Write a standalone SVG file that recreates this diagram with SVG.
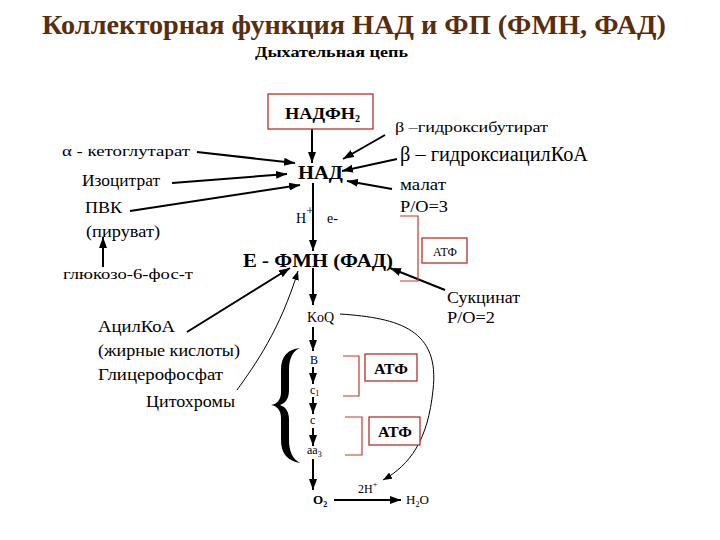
<svg xmlns="http://www.w3.org/2000/svg" width="720" height="540" viewBox="0 0 720 540" font-family="'Liberation Serif', 'Times New Roman', serif">
<defs>
<marker id="ah" markerUnits="userSpaceOnUse" markerWidth="11" markerHeight="8" refX="11" refY="4" orient="auto">
<path d="M0,0 L11,4 L0,8 z" fill="#000"/>
</marker>
<marker id="ahs" markerUnits="userSpaceOnUse" markerWidth="9" markerHeight="7" refX="9" refY="3.5" orient="auto">
<path d="M0,0 L9,3.5 L0,7 z" fill="#000"/>
</marker>
<style>
.b{font-weight:bold}
.a{stroke:#000;stroke-width:2;fill:none;marker-end:url(#ah)}
.t{stroke:#000;stroke-width:1;fill:none;marker-end:url(#ahs)}
.rb{fill:#fff;stroke:#b5302a;stroke-width:1.3}
.br{fill:none;stroke:#c0392b;stroke-width:1.2}
</style>
</defs>
<rect width="720" height="540" fill="#fff"/>
<g id="title">
<text x="42" y="34" class="b" font-size="27" fill="#5a2d0c" textLength="624" lengthAdjust="spacingAndGlyphs">Коллекторная функция НАД и ФП (ФМН, ФАД)</text>
<text x="255" y="57" class="b" font-size="15" textLength="153" lengthAdjust="spacingAndGlyphs">Дыхательная  цепь</text>
</g>
<g id="connectors">
<line class="a" x1="312" y1="129" x2="312" y2="163"/>
<line class="a" x1="197" y1="152" x2="295" y2="163"/>
<line class="a" x1="172" y1="183" x2="287" y2="174"/>
<line class="a" x1="130" y1="211" x2="300" y2="185"/>
<line class="a" x1="103" y1="267" x2="103" y2="237"/>
<line class="a" x1="385" y1="135" x2="343" y2="159"/>
<line class="a" x1="397" y1="159" x2="342" y2="171"/>
<line class="a" x1="392" y1="189" x2="347" y2="181"/>
<line class="a" x1="313" y1="183" x2="313" y2="251"/>
<line class="a" x1="445" y1="290" x2="390" y2="268"/>
<line class="a" x1="187" y1="332" x2="290" y2="268"/>
<path class="t" d="M237,390 C255,365 280,330 298,271"/>
<line class="a" x1="313" y1="268" x2="313" y2="305"/>
<path class="t" d="M340,314 C400,318 440,330 433,390 C428,440 410,465 383,480"/>
<line class="a" x1="313" y1="327" x2="313" y2="351"/>
<line class="a" x1="313" y1="367" x2="313" y2="384"/>
<line class="a" x1="313" y1="397" x2="313" y2="414"/>
<line class="a" x1="313" y1="428" x2="313" y2="446"/>
<line class="a" x1="313" y1="459" x2="313" y2="490"/>
<line class="a" x1="334" y1="500" x2="401" y2="500"/>
<path class="br" d="M400,216 H418 V281 H400"/>
<path class="br" d="M343,356 H359 V396 H343"/>
<path class="br" d="M345,417 H362 V455 H345"/>
<path d="M300,348 C288,349 281,356 281,370 L281,392 C281,400 277,404 271,405 C277,406 281,410 281,418 L281,440 C281,454 288,461 300,463 C293,459 289,452 289,440 L289,420 C289,412 286,407 280,405 C286,403 289,398 289,390 L289,370 C289,358 293,351 300,348 Z" fill="#000"/>
</g>
<g id="nadph">
<rect class="rb" x="268" y="94" width="105" height="35"/>
<text x="285" y="119" class="b" font-size="17"><tspan textLength="70" lengthAdjust="spacingAndGlyphs">НАДФН</tspan><tspan font-size="10" dy="3">2</tspan></text>
</g>
<g id="nad"><text x="298" y="179" class="b" font-size="19" textLength="45" lengthAdjust="spacingAndGlyphs">НАД</text></g>
<g id="he">
<text x="296" y="223" font-size="14">Н<tspan font-size="13" dy="-8">+</tspan></text>
<text x="327" y="223" font-size="14">е-</text>
</g>
<g id="fmn"><text x="243" y="267" class="b" font-size="18.5" textLength="150" lengthAdjust="spacingAndGlyphs">Е - ФМН (ФАД)</text></g>
<g id="ketoglut"><text x="62" y="156" font-size="15" textLength="128" lengthAdjust="spacingAndGlyphs">α - кетоглутарат</text></g>
<g id="isocit"><text x="82" y="186" font-size="17" textLength="78" lengthAdjust="spacingAndGlyphs">Изоцитрат</text></g>
<g id="pvk"><text x="85" y="213" font-size="17" textLength="37" lengthAdjust="spacingAndGlyphs">ПВК</text><text x="86" y="237" font-size="17" textLength="74" lengthAdjust="spacingAndGlyphs">(пируват)</text></g>
<g id="glucose"><text x="63" y="279" font-size="15" textLength="130" lengthAdjust="spacingAndGlyphs">глюкозо-6-фос-т</text></g>
<g id="hbut"><text x="395" y="132" font-size="15" textLength="153" lengthAdjust="spacingAndGlyphs">β –гидроксибутират</text></g>
<g id="hacyl"><text x="400" y="161" font-size="20" textLength="188" lengthAdjust="spacingAndGlyphs">β – гидроксиацилКоА</text></g>
<g id="malat"><text x="400" y="190" font-size="16" textLength="46" lengthAdjust="spacingAndGlyphs">малат</text><text x="400" y="212" font-size="16" textLength="48" lengthAdjust="spacingAndGlyphs">P/O=3</text></g>
<g id="atf1"><rect class="rb" x="422" y="238" width="45" height="25"/><text x="433" y="256" font-size="12" textLength="24" lengthAdjust="spacingAndGlyphs">АТФ</text></g>
<g id="succ"><text x="447" y="303" font-size="17" textLength="73" lengthAdjust="spacingAndGlyphs">Сукцинат</text><text x="447" y="323" font-size="17" textLength="48" lengthAdjust="spacingAndGlyphs">P/O=2</text></g>
<g id="acyl"><text x="98" y="332" font-size="17" textLength="77" lengthAdjust="spacingAndGlyphs">АцилКоА</text><text x="98" y="356" font-size="16" textLength="142" lengthAdjust="spacingAndGlyphs">(жирные кислоты)</text><text x="98" y="380" font-size="17" textLength="125" lengthAdjust="spacingAndGlyphs">Глицерофосфат</text></g>
<g id="cyto"><text x="146" y="407" font-size="17" textLength="89" lengthAdjust="spacingAndGlyphs">Цитохромы</text></g>
<g id="koq"><text x="307" y="322" font-size="14">KoQ</text></g>
<g id="b"><text x="310" y="364" font-size="12">B</text></g>
<g id="c1"><text x="310" y="394" font-size="12">c<tspan font-size="8" dy="2">1</tspan></text></g>
<g id="c"><text x="310" y="424" font-size="12">c</text></g>
<g id="aa3"><text x="307" y="454" font-size="12">aa<tspan font-size="8" dy="3">3</tspan></text></g>
<g id="o2"><text x="313" y="504" class="b" font-size="13">O<tspan font-size="8" dy="3">2</tspan></text></g>
<g id="h2o"><text x="406" y="504" font-size="13">H<tspan font-size="8" dy="3">2</tspan><tspan dy="-3">O</tspan></text></g>
<g id="h2"><text x="358" y="493" font-size="12">2H<tspan font-size="8" dy="-6">+</tspan></text></g>
<g id="atf2"><rect class="rb" x="365" y="354" width="52" height="27"/><text x="374" y="374" class="b" font-size="15" textLength="34" lengthAdjust="spacingAndGlyphs">АТФ</text></g>
<g id="atf3"><rect class="rb" x="369" y="417" width="51" height="28"/><text x="378" y="437" class="b" font-size="15" textLength="34" lengthAdjust="spacingAndGlyphs">АТФ</text></g>
</svg>
